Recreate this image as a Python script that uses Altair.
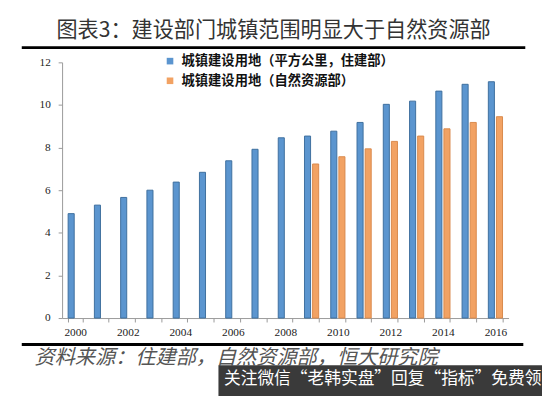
import altair as alt
import pandas as pd

years = [str(y) for y in range(2000, 2017)]
series_names = ["城镇建设用地（平方公里，住建部）", "城镇建设用地（自然资源部）"]
mohurd = [4.9, 5.3, 5.66, 6.0, 6.38, 6.84, 7.38, 7.92, 8.46, 8.54, 8.77, 9.18, 10.03, 10.18, 10.65, 10.97, 11.09]
mnr_years = [str(y) for y in range(2009, 2017)]
mnr = [7.23, 7.57, 7.94, 8.29, 8.54, 8.88, 9.18, 9.45]

title_text = "图表3：建设部门城镇范围明显大于自然资源部"
source_text = "资料来源：住建部，自然资源部，恒大研究院"
banner_text = "关注微信“老韩实盘”回复“指标”免费领"

rows = [{"year": y, "series": series_names[0], "value": v} for y, v in zip(years, mohurd)]
rows += [{"year": y, "series": series_names[1], "value": v} for y, v in zip(mnr_years, mnr)]
df = pd.DataFrame(rows)

W, H = 454, 260

bars = alt.Chart(df).mark_bar(strokeWidth=1).encode(
    x=alt.X("year:N", sort=years,
            scale=alt.Scale(domain=years, paddingInner=0.46, paddingOuter=0.23),
            axis=alt.Axis(title=None, labelAngle=0, tickBand="extent",
                          labelExpr="parseInt(datum.value) % 2 == 0 ? datum.value : ''",
                          labelFont="Liberation Serif", labelFontSize=11.5, labelColor="#222",
                          domainColor="#999", tickColor="#999", tickSize=4, labelPadding=5)),
    xOffset=alt.XOffset("series:N", scale=alt.Scale(domain=series_names, paddingInner=0.25)),
    y=alt.Y("value:Q", scale=alt.Scale(domain=[0, 12]),
            axis=alt.Axis(title=None, values=[0, 2, 4, 6, 8, 10, 12], grid=False,
                          labelFont="Liberation Serif", labelFontSize=11.5, labelColor="#222",
                          domainColor="#999", tickColor="#999", tickSize=4, labelPadding=8)),
    color=alt.Color("series:N", sort=series_names,
                    scale=alt.Scale(domain=series_names, range=["#5b95cf", "#f2a263"]),
                    legend=alt.Legend(title=None, orient="none", legendX=103, legendY=-8,
                                      symbolType="square", symbolSize=45, symbolStrokeWidth=0,
                                      labelFont="Noto Sans CJK SC", labelFontSize=13.5,
                                      labelFontWeight="bold", labelColor="#111",
                                      rowPadding=5, labelOffset=5, labelLimit=400)),
    stroke=alt.Stroke("series:N", scale=alt.Scale(domain=series_names, range=["#3e6f9e", "#d98a4c"]),
                      legend=None),
)

title = alt.Chart(pd.DataFrame({"t": [title_text]})).mark_text(
    font="Noto Sans CJK SC", fontSize=21.5, color="#333", align="center", baseline="middle"
).encode(text="t:N", x=alt.value(215), y=alt.value(-32))

rule_top = alt.Chart(pd.DataFrame({"a": [0]})).mark_rule(color="#000", strokeWidth=3).encode(
    x=alt.value(-41), x2=alt.value(471), y=alt.value(-15))
rule_bot = alt.Chart(pd.DataFrame({"a": [0]})).mark_rule(color="#000", strokeWidth=3).encode(
    x=alt.value(-41), x2=alt.value(469), y=alt.value(287))

source = alt.Chart(pd.DataFrame({"t": [source_text]})).mark_text(
    font="Noto Sans CJK SC", fontSize=20.5, fontStyle="italic", color="#555",
    align="left", baseline="middle"
).encode(text="t:N", x=alt.value(-28), y=alt.value(301))

banner_bg = alt.Chart(pd.DataFrame({"a": [0]})).mark_rect(color="#3a3a3a").encode(
    x=alt.value(159), x2=alt.value(490), y=alt.value(308), y2=alt.value(340))
banner = alt.Chart(pd.DataFrame({"t": [banner_text]})).mark_text(
    font="Noto Sans CJK SC", fontSize=17, color="#ffffff", align="center", baseline="middle"
).encode(text="t:N", x=alt.value(326), y=alt.value(322))

chart = alt.layer(bars, title, rule_top, rule_bot, source, banner_bg, banner).properties(
    width=W, height=H,
    autosize=alt.AutoSizeParams(type="none"),
    padding={"left": 55, "top": 52, "right": 34, "bottom": 76},
    background="white",
).configure_view(stroke=None)

chart.save("out.html", embed_options={"renderer": "svg", "actions": False})
